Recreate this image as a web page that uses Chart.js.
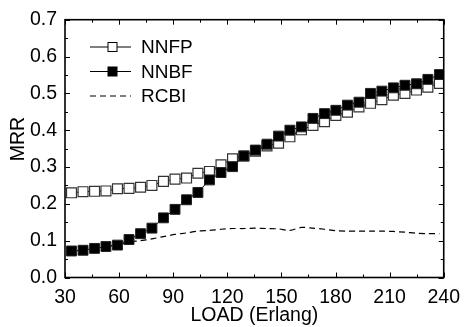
<!DOCTYPE html>
<html>
<head>
<meta charset="utf-8">
<script src="https://cdn.jsdelivr.net/npm/chart.js@4.4.1/dist/chart.umd.min.js"></script>
<style>
  html, body { margin: 0; padding: 0; background: #fff; }
</style>
</head>
<body>
<canvas id="chart" width="468" height="327"></canvas>
<script>
const loads = [33.6, 40, 46.4, 52.7, 59.1, 65.5, 71.9, 78.2, 84.6, 91, 97.4, 103.7, 110.1, 116.5, 122.9, 129.2, 135.6,
  142, 148.4, 154.7, 161.1, 167.5, 173.9, 180.2, 186.6, 193, 199.4, 205.7, 212.1, 218.5, 224.9, 231.2, 237.6];
const nnfp = [0.230, 0.233, 0.234, 0.235, 0.241, 0.242, 0.245, 0.250, 0.261, 0.267, 0.270, 0.283, 0.288, 0.306, 0.322, 0.330, 0.343,
  0.357, 0.365, 0.382, 0.401, 0.413, 0.423, 0.440, 0.449, 0.463, 0.473, 0.483, 0.495, 0.500, 0.509, 0.517, 0.527];
const nnbf = [0.072, 0.074, 0.079, 0.084, 0.088, 0.103, 0.119, 0.134, 0.162, 0.185, 0.211, 0.231, 0.265, 0.285, 0.301, 0.330, 0.346,
  0.362, 0.384, 0.400, 0.409, 0.432, 0.445, 0.454, 0.468, 0.476, 0.500, 0.506, 0.515, 0.522, 0.526, 0.538, 0.551];
const rcbi = [0.072, 0.074, 0.079, 0.084, 0.088, 0.096, 0.100, 0.105, 0.111, 0.117, 0.121, 0.126, 0.128, 0.131, 0.133, 0.133, 0.134,
  0.133, 0.132, 0.128, 0.136, 0.134, 0.131, 0.127, 0.126, 0.126, 0.126, 0.126, 0.125, 0.123, 0.120, 0.119, 0.119];

const xMajor = [30, 60, 90, 120, 150, 180, 210, 240];
const xMinor = [45, 75, 105, 135, 165, 195, 225];
const yMajor = [0, 0.1, 0.2, 0.3, 0.4, 0.5, 0.6, 0.7];
const yMinor = [0.05, 0.15, 0.25, 0.35, 0.45, 0.55, 0.65];

const FONT = '"Liberation Sans", Arial, sans-serif';

function pts(ys) {
  return ys.map((y, i) => ({ x: loads[i], y: y }));
}

const legendItems = [
  { label: 'NNFP', fill: '#fff', marker: true, dash: [] },
  { label: 'NNBF', fill: '#000', marker: true, dash: [] },
  { label: 'RCBI', fill: null, marker: false, dash: [6, 4] }
];

// frame with inward ticks on all sides, y title and legend
const framePlugin = {
  id: 'frame',
  afterDraw(chart) {
    const ctx = chart.ctx;
    const a = chart.chartArea;
    const xs = chart.scales.x, ys = chart.scales.y;
    ctx.save();
    ctx.strokeStyle = '#000';
    ctx.lineWidth = 1.6;
    ctx.strokeRect(a.left, a.top, a.right - a.left, a.bottom - a.top);
    ctx.lineWidth = 1;
    ctx.beginPath();
    const tickX = (v, len) => {
      const p = Math.round(xs.getPixelForValue(v)) + 0.5;
      ctx.moveTo(p, a.bottom); ctx.lineTo(p, a.bottom - len);
      ctx.moveTo(p, a.top); ctx.lineTo(p, a.top + len);
    };
    const tickY = (v, len) => {
      const p = Math.round(ys.getPixelForValue(v)) + 0.5;
      ctx.moveTo(a.left, p); ctx.lineTo(a.left + len, p);
      ctx.moveTo(a.right, p); ctx.lineTo(a.right - len, p);
    };
    xMajor.forEach(v => tickX(v, 5));
    xMinor.forEach(v => tickX(v, 3));
    yMajor.forEach(v => tickY(v, 5));
    yMinor.forEach(v => tickY(v, 3));
    ctx.stroke();

    // y axis title
    ctx.fillStyle = '#000';
    ctx.font = '19.5px ' + FONT;
    ctx.textAlign = 'center';
    ctx.textBaseline = 'middle';
    ctx.translate(19, 139);
    ctx.rotate(-Math.PI / 2);
    ctx.fillText('MRR', 0, 0);
    ctx.restore();

    // legend
    ctx.save();
    ctx.font = '19px ' + FONT;
    ctx.textBaseline = 'middle';
    ctx.fillStyle = '#000';
    legendItems.forEach((it, i) => {
      const y = 47 + i * 24.5;
      ctx.strokeStyle = '#000';
      ctx.lineWidth = 1;
      ctx.setLineDash(it.dash);
      ctx.beginPath();
      ctx.moveTo(90, y); ctx.lineTo(131, y);
      ctx.stroke();
      ctx.setLineDash([]);
      if (it.marker) {
        ctx.fillStyle = it.fill;
        ctx.fillRect(108, y - 4.5, 9, 9);
        ctx.strokeRect(108, y - 4.5, 9, 9);
      }
      ctx.fillStyle = '#000';
      ctx.fillText(it.label, 141, y + 1);
    });
    ctx.restore();
  }
};

new Chart(document.getElementById('chart'), {
  type: 'line',
  data: {
    datasets: [
      {
        label: 'NNBF', data: pts(nnbf), order: 1,
        borderColor: '#000', borderWidth: 1, backgroundColor: '#000',
        pointStyle: 'rect', pointRadius: 7, pointBorderColor: '#222', pointBorderWidth: 1,
        pointBackgroundColor: '#000', tension: 0
      },
      {
        label: 'NNFP', data: pts(nnfp), order: 2,
        borderColor: '#000', borderWidth: 1, backgroundColor: '#fff',
        pointStyle: 'rect', pointRadius: 7, pointBorderColor: '#333', pointBorderWidth: 1.2,
        pointBackgroundColor: '#fff', tension: 0
      },
      {
        label: 'RCBI', data: pts(rcbi), order: 3,
        borderColor: '#000', borderWidth: 1.2, borderDash: [6, 4],
        pointRadius: 0, tension: 0.3
      }
    ]
  },
  options: {
    responsive: false,
    animation: false,
    layout: { padding: { left: 0, right: 17, top: 18, bottom: 0 } },
    plugins: { legend: { display: false }, tooltip: { enabled: false } },
    scales: {
      x: {
        type: 'linear', min: 30, max: 240,
        afterBuildTicks: s => { s.ticks = xMajor.map(v => ({ value: v })); },
        afterFit: s => { s.height = 49.5; },
        grid: { display: false, drawTicks: false },
        border: { display: false },
        ticks: { color: '#000', padding: 8, maxRotation: 0, font: { family: FONT, size: 19.5 } },
        title: { display: true, text: 'LOAD (Erlang)', color: '#000', padding: { top: 1, bottom: 0 }, font: { family: FONT, size: 19.5 } }
      },
      y: {
        min: 0, max: 0.7,
        afterBuildTicks: s => { s.ticks = yMajor.map(v => ({ value: v })); },
        afterFit: s => { s.width = 65; },
        grid: { display: false, drawTicks: false },
        border: { display: false },
        ticks: { color: '#000', padding: 8, callback: v => v.toFixed(1), font: { family: FONT, size: 19.5 } }
      }
    }
  },
  plugins: [framePlugin]
});
</script>
</body>
</html>
